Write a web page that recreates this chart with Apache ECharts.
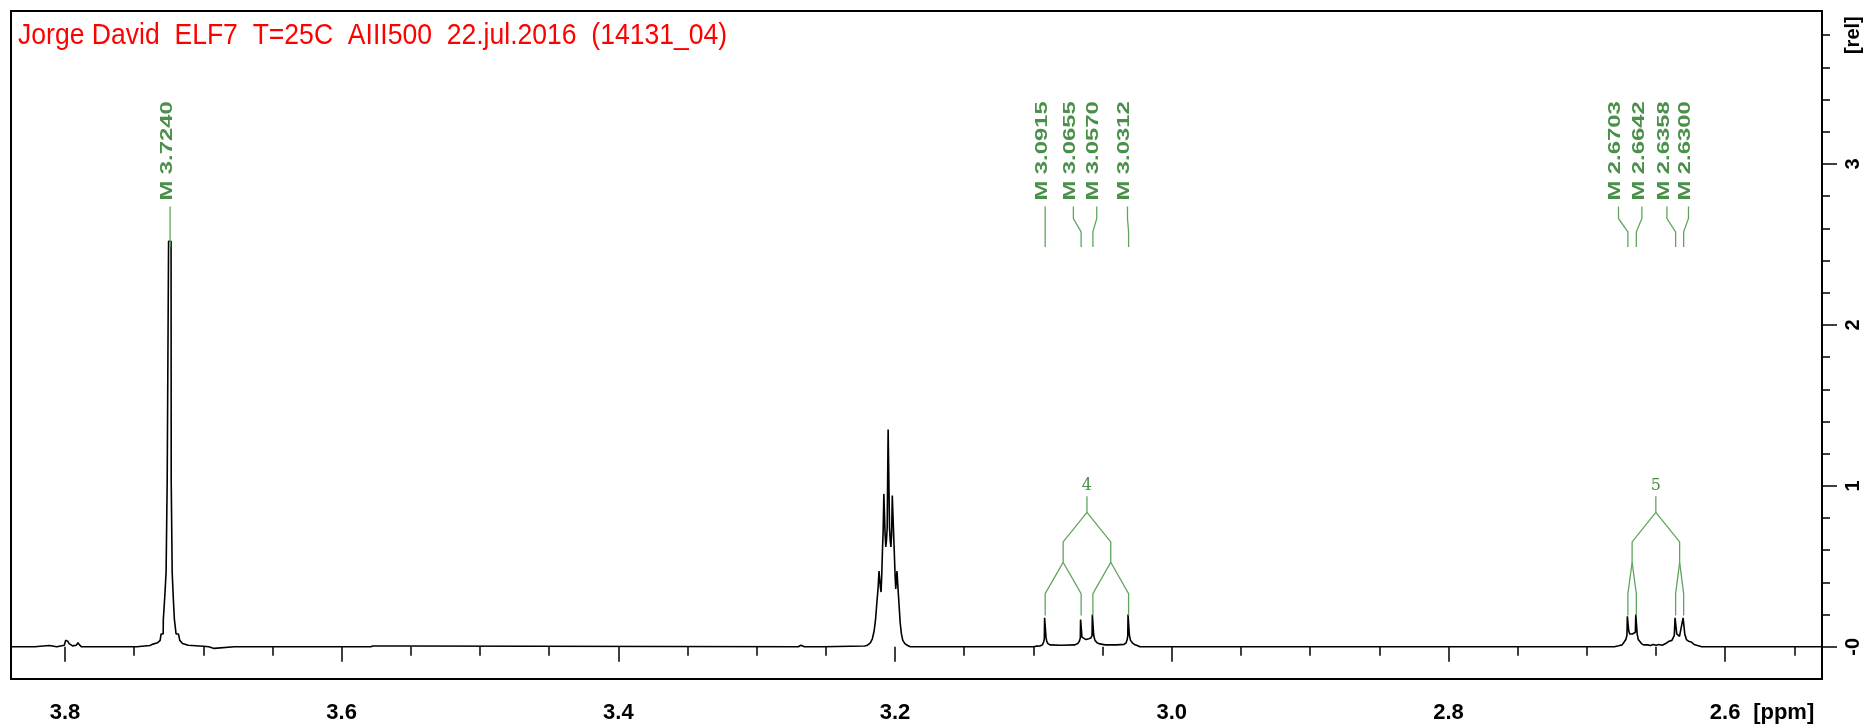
<!DOCTYPE html>
<html><head><meta charset="utf-8">
<script src="https://cdn.jsdelivr.net/npm/echarts@6/dist/echarts.min.js"></script>
<style>html,body{margin:0;padding:0;background:#fff}#c{width:1872px;height:728px}</style>
</head><body><div id="c"></div>
<script>
// ---------- DATA ----------
const titleText = 'Jorge David  ELF7  T=25C  AIII500  22.jul.2016  (14131_04)';

const xLabelValues = [3.8, 3.6, 3.4, 3.2, 3.0, 2.8, 2.6, 2.5577];
const xLabelTexts  = ['3.8', '3.6', '3.4', '3.2', '3.0', '2.8', '2.6', '[ppm]'];
const xMajorTicks  = [3.8, 3.6, 3.4, 3.2, 3.0, 2.8, 2.6];
const xMinorTicks  = [3.75, 3.7, 3.65, 3.55, 3.5, 3.45, 3.35, 3.3, 3.25, 3.15, 3.1, 3.05, 2.95, 2.9, 2.85, 2.75, 2.7, 2.65, 2.55];

const yLabelValues = [0, 1, 2, 3, 3.8];
const yLabelTexts  = ['-0', '1', '2', '3', '[rel]'];
const yMajorTicks  = [0, 1, 2, 3];
const yMinorTicks  = [0.2, 0.4, 0.6, 0.8, 1.2, 1.4, 1.6, 1.8, 2.2, 2.4, 2.6, 2.8, 3.2, 3.4, 3.6, 3.8];

// spectrum segments [ppm, intensity]
const segLeft = [
  [3.8390, 0.000], [3.8220, 0.000], [3.8217, 0.008], [3.8113, 0.008], [3.8110, 0.000],
  [3.8060, 0.000], [3.8048, 0.010], [3.8040, 0.004], [3.8005, 0.010], [3.7995, 0.040],
  [3.7988, 0.052], [3.7980, 0.035], [3.7970, 0.020], [3.7960, 0.012], [3.7945, 0.006],
  [3.7935, 0.000], [3.7918, 0.010], [3.7906, 0.025], [3.7895, 0.012], [3.7880, 0.000],
  [3.7482, 0.000], [3.7480, 0.008], [3.7385, 0.008]
];
const segPeak3724 = [
  [3.7370, 0.015], [3.7330, 0.025], [3.7312, 0.040], [3.7305, 0.080], [3.7290, 0.080],
  [3.7289, 0.170], [3.7280, 0.170], [3.7279, 0.305], [3.7270, 0.305], [3.7269, 0.464],
  [3.7262, 0.464], [3.7261, 1.030], [3.7252, 1.030], [3.7251, 2.520], [3.7233, 2.520],
  [3.7232, 1.030], [3.7226, 1.030], [3.7225, 0.464], [3.7218, 0.464], [3.7217, 0.305],
  [3.7210, 0.305], [3.7209, 0.170], [3.7198, 0.170], [3.7197, 0.080], [3.7180, 0.080],
  [3.7170, 0.040], [3.7150, 0.020], [3.7110, 0.010], [3.7000, 0.003], [3.6960, 0.000]
];
const segMiddle = [
  [3.6956, -0.010], [3.6922, -0.010], [3.6920, 0.000], [3.6775, 0.000], [3.6770, 0.006],
  [3.6765, 0.000], [3.6065, 0.000], [3.6060, 0.008], [3.6055, 0.000], [3.5790, 0.000],
  [3.5783, 0.012], [3.5775, 0.005], [3.5580, 0.005], [3.5575, 0.000], [3.2700, 0.000],
  [3.2680, 0.010], [3.2674, 0.020], [3.2668, 0.010], [3.2655, 0.000], [3.2520, 0.000],
  [3.2518, 0.005], [3.2220, 0.005]
];
const segQuintet = [
  [3.2199, 0.010], [3.2179, 0.025], [3.2164, 0.050], [3.2151, 0.100], [3.2141, 0.170],
  [3.2131, 0.280], [3.2123, 0.360], [3.2116, 0.470], [3.2111, 0.480], [3.2106, 0.370],
  [3.2101, 0.340], [3.2096, 0.450], [3.2091, 0.600], [3.2086, 0.720], [3.2081, 0.950],
  [3.2077, 0.955], [3.2072, 0.700], [3.2067, 0.620], [3.2062, 0.660], [3.2057, 0.740],
  [3.2050, 1.350], [3.2046, 1.350], [3.2040, 0.740], [3.2035, 0.660], [3.2030, 0.620],
  [3.2025, 0.700], [3.2020, 0.940], [3.2016, 0.945], [3.2011, 0.720], [3.2006, 0.600],
  [3.2000, 0.450], [3.1995, 0.360], [3.1990, 0.370], [3.1986, 0.470], [3.1982, 0.460],
  [3.1977, 0.340], [3.1971, 0.260], [3.1963, 0.150], [3.1954, 0.080], [3.1944, 0.040],
  [3.1929, 0.020], [3.1909, 0.008], [3.1889, 0.000]
];
const segGroup4 = [
  [3.1000, 0.000], [3.0980, 0.004], [3.0950, 0.006], [3.0935, 0.012], [3.0926, 0.030],
  [3.0921, 0.050], [3.0919, 0.180], [3.0912, 0.185], [3.0909, 0.060], [3.0904, 0.035],
  [3.0895, 0.020], [3.0880, 0.012], [3.0800, 0.010], [3.0700, 0.012], [3.0680, 0.020],
  [3.0668, 0.035], [3.0661, 0.055], [3.0659, 0.170], [3.0652, 0.172], [3.0649, 0.060],
  [3.0640, 0.050], [3.0620, 0.045], [3.0600, 0.050], [3.0585, 0.055], [3.0576, 0.070],
  [3.0574, 0.200], [3.0567, 0.200], [3.0564, 0.070], [3.0555, 0.040], [3.0540, 0.025],
  [3.0520, 0.018], [3.0480, 0.012], [3.0400, 0.012], [3.0345, 0.015], [3.0330, 0.025],
  [3.0322, 0.045], [3.0318, 0.070], [3.0316, 0.200], [3.0309, 0.200], [3.0306, 0.070],
  [3.0298, 0.040], [3.0285, 0.025], [3.0270, 0.015], [3.0250, 0.008], [3.0230, 0.000]
];
const segGroup5 = [
  [2.6800, 0.000], [2.6770, 0.006], [2.6745, 0.012], [2.6730, 0.030], [2.6718, 0.045],
  [2.6710, 0.070], [2.6707, 0.190], [2.6700, 0.190], [2.6697, 0.100], [2.6690, 0.080],
  [2.6680, 0.085], [2.6670, 0.080], [2.6660, 0.075], [2.6649, 0.090], [2.6646, 0.200],
  [2.6639, 0.200], [2.6636, 0.080], [2.6628, 0.045], [2.6618, 0.035], [2.6605, 0.020],
  [2.6590, 0.012], [2.6560, 0.012], [2.6540, 0.008], [2.6520, 0.014], [2.6500, 0.010],
  [2.6480, 0.014], [2.6455, 0.010], [2.6430, 0.020], [2.6405, 0.035], [2.6385, 0.040],
  [2.6368, 0.070], [2.6362, 0.180], [2.6355, 0.180], [2.6350, 0.080], [2.6340, 0.070],
  [2.6330, 0.065], [2.6318, 0.075], [2.6304, 0.180], [2.6297, 0.180], [2.6292, 0.080],
  [2.6280, 0.045], [2.6265, 0.035], [2.6245, 0.030], [2.6225, 0.015], [2.6200, 0.008],
  [2.6170, 0.000], [2.5300, 0.000]
];

// peak picking
const peakPpm      = [3.7240, 3.0915, 3.0655, 3.0570, 3.0312, 2.6703, 2.6642, 2.6358, 2.6300];
const peakLabelPpm = [3.7240, 3.0915, 3.0711, 3.0542, 3.0320, 2.6771, 2.6602, 2.6421, 2.6265];
const peakLabels   = ['M 3.7240', 'M 3.0915', 'M 3.0655', 'M 3.0570', 'M 3.0312', 'M 2.6703', 'M 2.6642', 'M 2.6358', 'M 2.6300'];

// multiplet trees
const multipletNames   = ['4', '5'];
const multipletCenter  = [3.0613, 2.6501];
const multipletBranch  = [[3.0785, 3.0441], [2.66725, 2.6329]];
const multipletPeaks   = [[3.0915, 3.0655, 3.0570, 3.0312], [2.6703, 2.6642, 2.6358, 2.6300]];

// ---------- CHART ----------
const spectrum = [].concat(segLeft, segPeak3724, segMiddle, segQuintet, segGroup4, segGroup5);
const GREEN_TXT = '#4a8f4a';
const GREEN_LN = '#5fa55f';
const FONT = '"Liberation Sans", Arial, sans-serif';

function nearestText(vals, texts, v) {
  let best = 0, d = Infinity;
  vals.forEach((x, i) => { const dd = Math.abs(x - v); if (dd < d) { d = dd; best = i; } });
  return texts[best];
}

// connector levels in intensity units
const LBL = { top: 2.735, k1: 2.661, k2: 2.578, bot: 2.484 };
const TREE = { label: 1.0, top: 0.935, split: 0.835, l2: 0.652, l2b: 0.525, l3: 0.33, end: 0.195 };

const chart = echarts.init(document.getElementById('c'), null, { renderer: 'canvas' });
chart.setOption({
  animation: false,
  backgroundColor: '#fff',
  grid: { left: 11, right: 50, top: 11, bottom: 49, show: true, borderColor: '#000', borderWidth: 2, backgroundColor: 'transparent' },
  graphic: [{
    type: 'text', x: 18, y: 36, scaleX: 0.885,
    style: { text: titleText, font: '30px ' + FONT, fill: '#ff0000', align: 'left', verticalAlign: 'middle' }
  }],
  xAxis: [{
    type: 'value', inverse: true, min: 2.530, max: 3.839, position: 'bottom',
    axisLine: { show: false }, splitLine: { show: false },
    axisTick: { show: true, customValues: xMajorTicks, length: 15, lineStyle: { color: '#000', width: 1.5 } },
    axisLabel: { customValues: xLabelValues, formatter: v => nearestText(xLabelValues, xLabelTexts, v),
      fontSize: 22, fontWeight: 'bold', fontFamily: FONT, color: '#000', margin: 23 }
  }, {
    type: 'value', inverse: true, min: 2.530, max: 3.839, position: 'bottom',
    axisLine: { show: false }, splitLine: { show: false },
    axisTick: { show: true, customValues: xMinorTicks, length: 9, lineStyle: { color: '#000', width: 1.5 } },
    axisLabel: { show: false }
  }],
  yAxis: [{
    type: 'value', position: 'right', min: -0.2, max: 3.95,
    axisLine: { show: false }, splitLine: { show: false },
    axisTick: { show: true, customValues: yMajorTicks, length: 15, lineStyle: { color: '#000', width: 1.5 } },
    axisLabel: { customValues: yLabelValues, formatter: v => nearestText(yLabelValues, yLabelTexts, v),
      rotate: 90, fontSize: 20, fontWeight: 'bold', fontFamily: FONT, color: '#000', margin: 21 }
  }, {
    type: 'value', position: 'right', min: -0.2, max: 3.95,
    axisLine: { show: false }, splitLine: { show: false },
    axisTick: { show: true, customValues: yMinorTicks, length: 8, lineStyle: { color: '#000', width: 1.5 } },
    axisLabel: { show: false }
  }],
  series: [{
    type: 'line', xAxisIndex: 0, yAxisIndex: 0, data: spectrum,
    showSymbol: false, symbol: 'none', lineStyle: { color: '#000', width: 1.6 }, z: 3
  }, {
    type: 'custom', xAxisIndex: 0, yAxisIndex: 0, z: 4,
    data: peakLabelPpm.map((lp, i) => [lp, peakPpm[i]]),
    encode: { x: 0 },
    renderItem: (params, api) => {
      const i = params.dataIndex;
      const lp = api.value(0), pp = api.value(1);
      const a = api.coord([lp, LBL.top]), b = api.coord([lp, LBL.k1]);
      const c = api.coord([pp, LBL.k2]), d = api.coord([pp, LBL.bot]);
      return { type: 'group', children: [
        { type: 'polyline', shape: { points: [a, b, c, d] }, style: { stroke: GREEN_LN, lineWidth: 1.3, fill: null } },
        { type: 'text', x: a[0] - 3, y: a[1] - 6, rotation: Math.PI / 2, scaleX: 1.40,
          style: { text: peakLabels[i], font: 'bold 17px ' + FONT, fill: GREEN_TXT, align: 'left', verticalAlign: 'middle' } }
      ] };
    }
  }, {
    type: 'custom', xAxisIndex: 0, yAxisIndex: 0, z: 4,
    data: multipletCenter.map((c, i) => [c, multipletBranch[i][0], multipletBranch[i][1]].concat(multipletPeaks[i])),
    encode: { x: 0 },
    renderItem: (params, api) => {
      const i = params.dataIndex;
      const c = api.value(0), b1 = api.value(1), b2 = api.value(2);
      const p = [api.value(3), api.value(4), api.value(5), api.value(6)];
      const P = (x, y) => api.coord([x, y]);
      const T = TREE;
      const paths = [
        [P(c, T.top), P(c, T.split)],
        [P(c, T.split), P(b1, T.l2), P(b1, T.l2b), P(p[0], T.l3), P(p[0], T.end)],
        [P(b1, T.l2b), P(p[1], T.l3), P(p[1], T.end)],
        [P(c, T.split), P(b2, T.l2), P(b2, T.l2b), P(p[2], T.l3), P(p[2], T.end)],
        [P(b2, T.l2b), P(p[3], T.l3), P(p[3], T.end)]
      ];
      const lab = P(c, T.label);
      const children = paths.map(pts => ({ type: 'polyline', shape: { points: pts }, style: { stroke: GREEN_LN, lineWidth: 1.3, fill: null } }));
      children.push({ type: 'text', x: lab[0], y: lab[1],
        style: { text: multipletNames[i], font: '16px "DejaVu Serif", serif', fill: GREEN_TXT, align: 'center', verticalAlign: 'middle' } });
      return { type: 'group', children };
    }
  }]
});
</script></body></html>
